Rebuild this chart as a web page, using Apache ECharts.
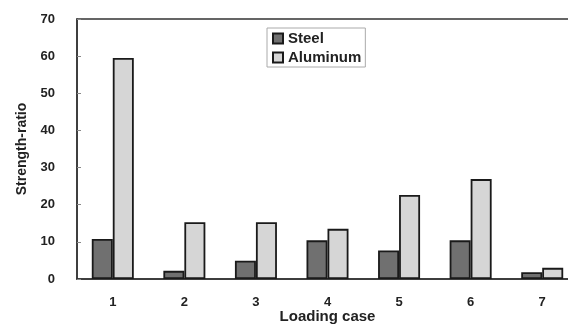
<!DOCTYPE html>
<html><head><meta charset="utf-8">
<script src="https://cdn.jsdelivr.net/npm/echarts@6/dist/echarts.min.js"></script>
<style>html,body{margin:0;padding:0;background:#fff}#c{width:568px;height:324px}</style>
</head><body><div id="c"></div>
<script>
var categories = ['1','2','3','4','5','6','7'];
var steel = [10.8, 2.2, 4.9, 10.4, 7.7, 10.4, 1.8];
var aluminum = [59.5, 15.3, 15.3, 13.5, 22.6, 26.9, 3.0];
var yTicks = [0,10,20,30,40,50,60,70];

var chart = echarts.init(document.getElementById('c'));
var font = 'Liberation Sans';
chart.setOption({
  animation: false,
  grid: {left: 77, top: 19, bottom: 45, right: -10, show: true, borderColor: '#333', borderWidth: 1.5,
         outerBoundsMode: 'none', containLabel: false},
  legend: {
    orient: 'vertical', left: 267, top: 28, itemWidth: 10, itemHeight: 10, itemGap: 4,
    borderColor: '#aaa', borderWidth: 1, padding: [3, 4, 2, 5], icon: 'rect',
    textStyle: {fontFamily: font, fontSize: 15, fontWeight: 'bold', color: '#222'},
    data: ['Steel','Aluminum']
  },
  xAxis: {
    type: 'category', data: categories,
    name: 'Loading case', nameLocation: 'middle', nameGap: 30, nameMoveOverlap: false,
    nameTextStyle: {fontFamily: font, fontSize: 15, fontWeight: 'bold', color: '#222'},
    axisLine: {lineStyle: {color: '#333', width: 1.5}},
    axisTick: {inside: true, length: 4, lineStyle: {color: '#888'}},
    axisLabel: {fontFamily: font, fontSize: 13, fontWeight: 'bold', color: '#222', margin: 17}
  },
  yAxis: {
    type: 'value', min: 0, max: 70, interval: 10,
    name: 'Strength-ratio', nameLocation: 'middle', nameGap: 48, nameRotate: 90, nameMoveOverlap: false,
    nameTextStyle: {fontFamily: font, fontSize: 14, fontWeight: 'bold', color: '#222'},
    axisLine: {show: true, lineStyle: {color: '#333', width: 1.5}},
    axisTick: {show: true, inside: true, length: 4, lineStyle: {color: '#888'}},
    splitLine: {show: false},
    axisLabel: {fontFamily: font, fontSize: 13, fontWeight: 'bold', color: '#222', margin: 22,
      formatter: function(v){ return yTicks.indexOf(v) >= 0 ? String(v) : ''; }}
  },
  series: [
    {name: 'Steel', type: 'bar', data: steel, barWidth: 21, barGap: '0%',
     itemStyle: {color: '#707070', borderColor: '#1a1a1a', borderWidth: 1.8}},
    {name: 'Aluminum', type: 'bar', data: aluminum, barWidth: 21, barGap: '0%',
     itemStyle: {color: '#d6d6d6', borderColor: '#1a1a1a', borderWidth: 1.8}}
  ]
});
</script></body></html>
